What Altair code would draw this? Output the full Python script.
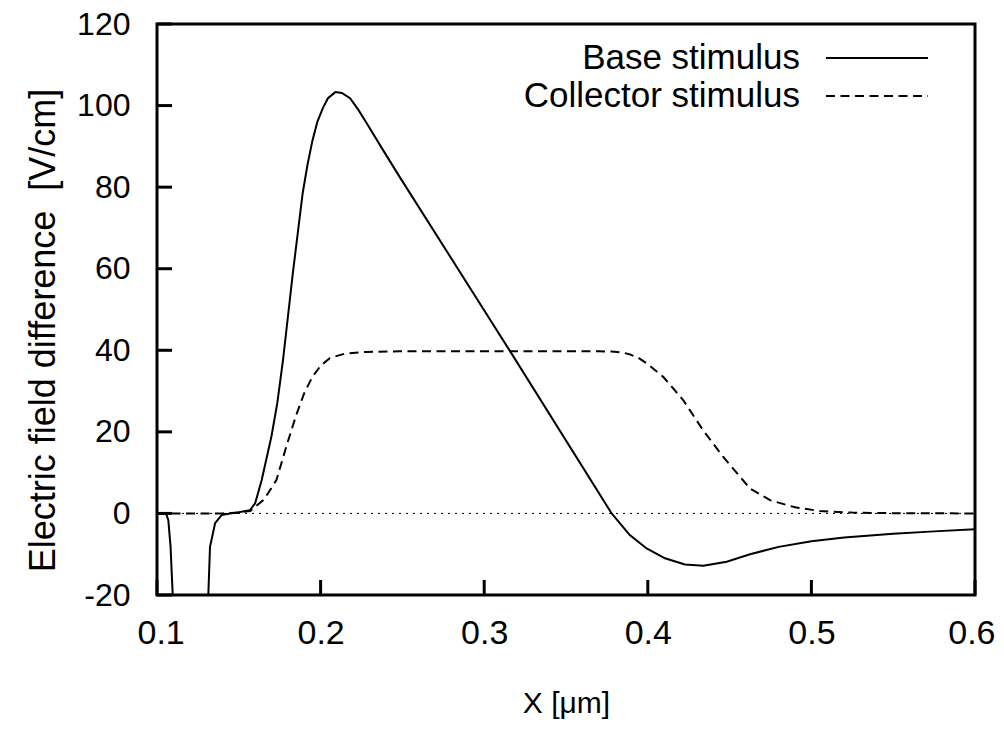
import altair as alt
import pandas as pd

# ---- data ----
base_x = [0.100, 0.1055, 0.1069, 0.1083, 0.1096, 0.1105, 0.1300, 0.1306, 0.1314, 0.1324,
          0.1355, 0.1395, 0.1446, 0.150, 0.1568, 0.160, 0.164, 0.170, 0.1735, 0.177,
          0.183, 0.189, 0.192, 0.195, 0.198, 0.2015, 0.2045, 0.209, 0.213, 0.218,
          0.223, 0.228, 0.238, 0.2485, 0.3158, 0.3779,
          0.389, 0.3993, 0.4105, 0.4227, 0.434, 0.4482, 0.4625, 0.48, 0.50, 0.52,
          0.55, 0.575, 0.60]
base_y = [0, 0, -1.6, -8.2, -20, -45, -45, -32, -19.6, -8.2,
          -2.4, -0.4, 0, 0.3, 0.8, 2.5, 8.2, 19, 27, 37.5,
          58.8, 78.4, 85.5, 91.4, 96, 99.5, 101.8, 103.3, 103.1, 101.8,
          99, 95.8, 89.2, 82.4, 39.8, 0,
          -5.3, -8.6, -11, -12.5, -12.8, -11.85, -10, -8.2, -6.8, -5.9,
          -5.0, -4.4, -3.9]

coll_x = [0.100, 0.140, 0.150, 0.157, 0.165, 0.168, 0.173, 0.1795, 0.185, 0.190,
          0.195, 0.200, 0.2057, 0.215, 0.228, 0.2485, 0.370, 0.378, 0.384, 0.389,
          0.394, 0.400, 0.4094, 0.4216, 0.4338, 0.446, 0.4625, 0.475, 0.49, 0.505,
          0.525, 0.55, 0.60]
coll_y = [0, 0, 0.2, 0.6, 3.3, 5, 8.2, 17, 24, 29.5,
          33.5, 36.2, 38.1, 39.2, 39.6, 39.75, 39.75, 39.7, 39.5, 39.0,
          38.2, 36.6, 33.5, 27.8, 20.4, 13.9, 6.1, 3.2, 1.5, 0.6,
          0.2, 0.05, 0]

series_names = ["Base stimulus", "Collector stimulus"]
series_dash = [[1, 0], [9, 5.5]]

x_ticks = [0.1, 0.2, 0.3, 0.4, 0.5, 0.6]
y_ticks = [-20, 0, 20, 40, 60, 80, 100, 120]

W, H = 818, 571
FONT = "Liberation Sans"

base_df = pd.DataFrame({"x": base_x, "y": base_y})
coll_df = pd.DataFrame({"x": coll_x, "y": coll_y})

xscale = alt.Scale(domain=[0.1, 0.6], nice=False, zero=False)
yscale = alt.Scale(domain=[-20, 120], nice=False, zero=False)

xaxis = alt.Axis(values=x_ticks, format=".1f", title="X [μm]", grid=False,
                 domain=False, ticks=False, tickSize=0, labelPadding=21,
                 labelFontSize=34, labelFont=FONT, labelColor="black",
                 titleFontSize=30, titleFont=FONT, titleFontWeight="normal",
                 titleColor="black", titleY=108, titleBaseline="middle",
                 labelFlush=True, labelFlushOffset=20)
yaxis = alt.Axis(values=y_ticks, labelExpr="datum.value + ''",
                 title="Electric field difference\u00a0\u00a0[V/cm]", grid=False,
                 domain=False, ticks=False, tickSize=0, labelPadding=27,
                 labelFontSize=32, labelFont=FONT, labelColor="black",
                 titleFontSize=36, titleFont=FONT, titleFontWeight="normal",
                 titleColor="black", titleX=-114, titleY=306, titleAngle=-90,
                 titleAlign="center", titleBaseline="middle", labelFlush=False)

zero_line = alt.Chart(pd.DataFrame({"y": [0]})).mark_rule(
    color="black", strokeWidth=1, strokeDash=[2, 5]
).encode(y=alt.Y("y:Q", scale=yscale, axis=yaxis))

base_line = alt.Chart(base_df).mark_line(
    color="black", strokeWidth=2, clip=True
).encode(x=alt.X("x:Q", scale=xscale, axis=xaxis), y=alt.Y("y:Q", scale=yscale))

coll_line = alt.Chart(coll_df).mark_line(
    color="black", strokeWidth=2, strokeDash=series_dash[1], clip=True
).encode(x=alt.X("x:Q", scale=xscale), y=alt.Y("y:Q", scale=yscale))

xtick_marks = alt.Chart(pd.DataFrame({"v": x_ticks})).mark_rule(
    color="black", strokeWidth=3
).encode(x=alt.X("v:Q", scale=xscale), y=alt.value(H), y2=alt.value(H - 15))

ytick_marks = alt.Chart(pd.DataFrame({"v": y_ticks})).mark_rule(
    color="black", strokeWidth=3
).encode(y=alt.Y("v:Q", scale=yscale), x=alt.value(0), x2=alt.value(15))

frame = alt.Chart(pd.DataFrame({"n": [0]})).mark_rect(
    filled=False, stroke="black", strokeWidth=3
).encode(x=alt.value(0), x2=alt.value(W), y=alt.value(0), y2=alt.value(H))

layers = [zero_line, coll_line, base_line, xtick_marks, ytick_marks, frame]

legend_rows = [34, 72]
for name, dash, ly in zip(series_names, series_dash, legend_rows):
    layers.append(
        alt.Chart(pd.DataFrame({"n": [name]})).mark_text(
            align="right", baseline="middle", fontSize=35, font=FONT, color="black"
        ).encode(text="n:N", x=alt.value(643), y=alt.value(ly))
    )
    layers.append(
        alt.Chart(pd.DataFrame({"n": [name]})).mark_rule(
            color="black", strokeWidth=2, strokeDash=dash
        ).encode(x=alt.value(669), x2=alt.value(771), y=alt.value(ly))
    )

chart = alt.layer(*layers).properties(
    width=W, height=H,
    autosize=alt.AutoSizeParams(type="none"),
    padding={"left": 149, "top": 16, "right": 21, "bottom": 124},
).configure_view(stroke="transparent").configure(background="white")

chart.save("out.html", embed_options={"renderer": "svg", "actions": False})
